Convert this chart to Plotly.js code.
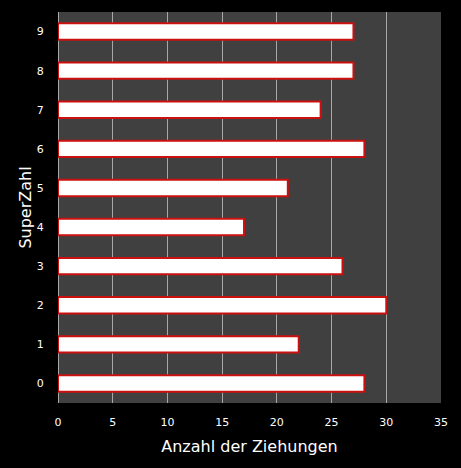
<!DOCTYPE html>
<html><head><meta charset="utf-8">
<script src="https://cdn.plot.ly/plotly-3.0.1.min.js"></script>
<style>html,body{margin:0;padding:0;background:#000;}#c{width:461px;height:468px;}</style>
</head><body><div id="c"></div>
<script>
const categories = ["0","1","2","3","4","5","6","7","8","9"];
const counts = [28, 22, 30, 26, 17, 21, 28, 24, 27, 27];
const xTicks = [0, 5, 10, 15, 20, 25, 30, 35];

Plotly.newPlot('c', [{
  type: 'bar', orientation: 'h',
  x: counts, y: categories,
  marker: {color: '#ffffff', line: {color: '#cc1010', width: 2}},
  hoverinfo: 'none'
}], {
  width: 461, height: 468,
  paper_bgcolor: '#000000', plot_bgcolor: '#404040',
  margin: {l: 58, r: 20, t: 12, b: 65},
  bargap: 0.58,
  font: {family: 'DejaVu Sans', color: '#ffffff', size: 11},
  xaxis: {
    range: [0, 35], tickvals: xTicks, ticktext: xTicks.map(String),
    showgrid: true, gridcolor: '#a8a8a8', gridwidth: 1,
    zeroline: true, zerolinecolor: '#a8a8a8', zerolinewidth: 1,
    ticks: 'outside', ticklen: 9, tickcolor: 'rgba(0,0,0,0)',
    tickfont: {size: 11, color: '#ffffff'},
    title: {text: 'Anzahl der Ziehungen', font: {size: 16, color: '#ffffff'}, standoff: 12},
    fixedrange: true
  },
  yaxis: {
    type: 'category', categoryarray: categories,
    showgrid: false, zeroline: false,
    ticks: 'outside', ticklen: 11, tickcolor: 'rgba(0,0,0,0)',
    tickfont: {size: 11, color: '#ffffff'},
    title: {text: 'SuperZahl', font: {size: 16, color: '#ffffff'}, standoff: 1},
    fixedrange: true
  },
  showlegend: false
}, {displayModeBar: false, staticPlot: true});
</script>
</body></html>
